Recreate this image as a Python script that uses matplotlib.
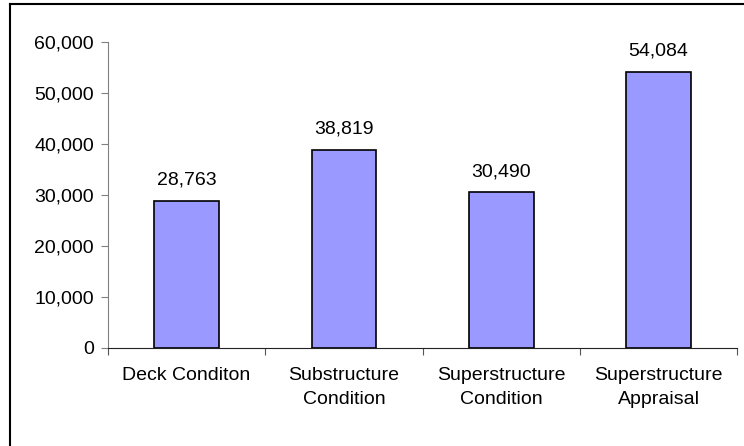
import numpy as np
import matplotlib.pyplot as plt
from matplotlib.ticker import FuncFormatter
from matplotlib.lines import Line2D

categories = ["Deck Conditon", "Substructure\nCondition",
              "Superstructure\nCondition", "Superstructure\nAppraisal"]
values = [28763, 38819, 30490, 54084]
yticks = [0, 10000, 20000, 30000, 40000, 50000, 60000]

plt.rcParams['font.family'] = ['Liberation Sans', 'DejaVu Sans']
fs = 14

fig = plt.figure(figsize=(7.44, 4.46), dpi=100)
ax = fig.add_axes([0.145, 0.22, 0.846, 0.686])

x = np.arange(len(values))
ax.bar(x, values, width=0.41, color='#9999FF', edgecolor='black', linewidth=1.2, zorder=3)
for xi, v in zip(x, values):
    ax.text(xi, v + 2400, f"{v:,}", ha='center', va='bottom', fontsize=fs)

ax.set_xlim(-0.5, len(values) - 0.5)
ax.set_ylim(0, 60000)
ax.set_yticks(yticks)
ax.yaxis.set_major_formatter(FuncFormatter(lambda v, p: f"{int(v):,}"))

# ticks at category boundaries, labels centred under bars
ax.set_xticks(np.arange(len(values) + 1) - 0.5)
ax.set_xticklabels([])
ax.set_xticks(x, minor=True)
ax.set_xticklabels(categories, minor=True, fontsize=fs, linespacing=1.5)
ax.tick_params(axis='x', which='minor', length=0, pad=14)
ax.tick_params(axis='x', which='major', length=5, direction='out', color='#555555')
ax.tick_params(axis='y', length=5, direction='out', color='#808080', labelsize=fs, pad=5)

for s in ['top', 'right']:
    ax.spines[s].set_visible(False)
ax.spines['left'].set_color('#808080')
ax.spines['bottom'].set_color('#222222')

# chart area border (only top and left edges are visible in the crop)
bx, by = 10 / 744, 1 - 4 / 446
fig.add_artist(Line2D([bx, bx], [0, by], transform=fig.transFigure, color='black', lw=1.5))
fig.add_artist(Line2D([bx, 1], [by, by], transform=fig.transFigure, color='black', lw=1.5))

fig.savefig('out.png', dpi=100)
